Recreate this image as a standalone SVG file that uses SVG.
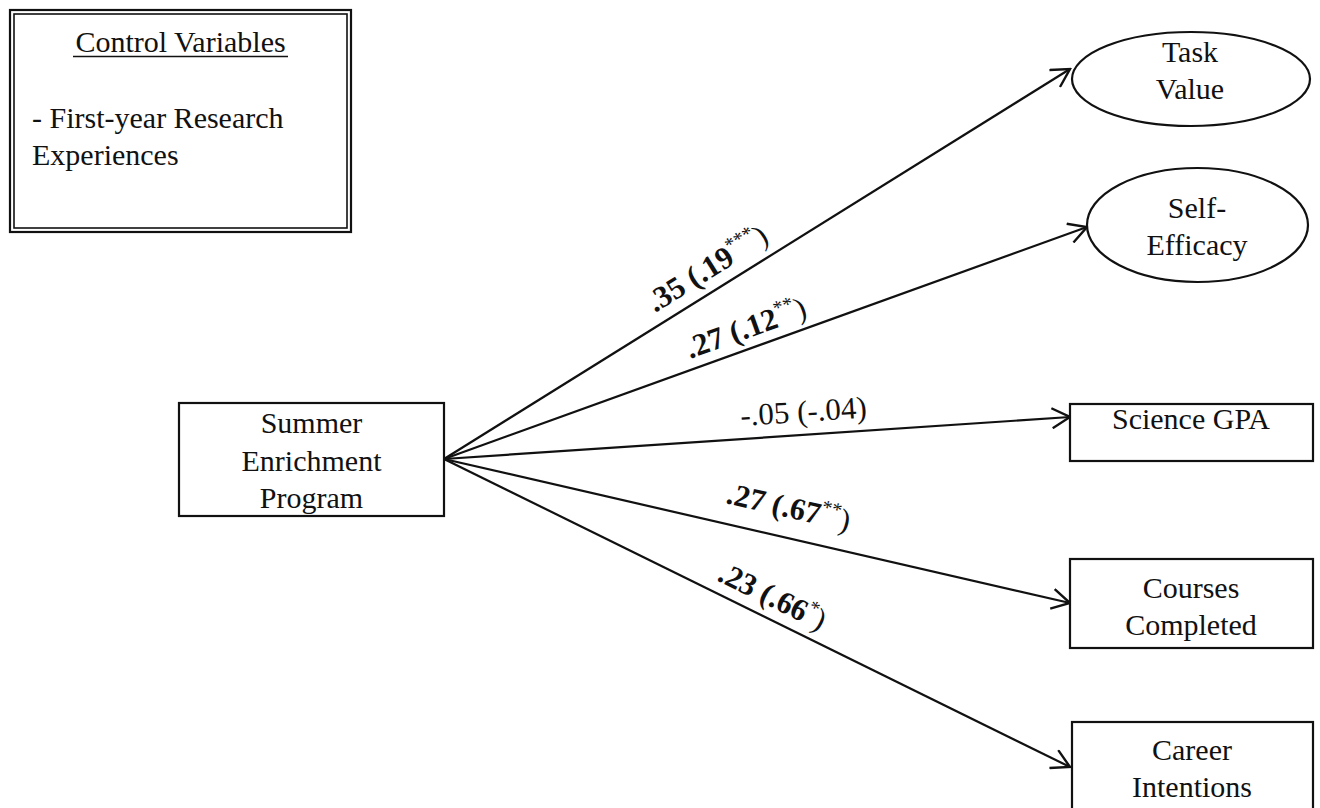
<svg xmlns="http://www.w3.org/2000/svg" width="1320" height="808" viewBox="0 0 1320 808">
<defs>
<style>
text{font-family:"Liberation Serif","Times New Roman",serif;fill:#111;}
.node{font-size:30px;text-anchor:middle;}
.box{fill:#fff;stroke:#111;stroke-width:2.2;}
.edge{stroke:#111;stroke-width:2.2;fill:none;marker-end:url(#arr);}
.lab{font-size:31px;}
.b{font-weight:bold;}
.sup{font-size:20px;font-weight:normal;}
</style>
<marker id="arr" markerUnits="userSpaceOnUse" viewBox="0 0 22 22" markerWidth="22" markerHeight="22" refX="20" refY="11" orient="auto">
<path d="M2,1 L20,11 L2,21" fill="none" stroke="#111" stroke-width="2.4" stroke-linejoin="miter"/>
</marker>
</defs>
<rect width="1320" height="808" fill="#fff"/>

<g id="control">
<rect x="10" y="10" width="341" height="222" fill="#fff" stroke="#111" stroke-width="2.2"/>
<rect x="14" y="14" width="333" height="214" fill="none" stroke="#111" stroke-width="1.6"/>
<text class="node" x="180.5" y="52">Control Variables</text>
<line x1="73" y1="56.5" x2="288" y2="56.5" stroke="#111" stroke-width="1.5"/>
<text style="font-size:30px" x="32" y="128">- First-year Research</text>
<text style="font-size:30px" x="32" y="165">Experiences</text>
</g>

<g id="connectors">
<line class="edge" x1="444" y1="459" x2="1070" y2="69"/>
<line class="edge" x1="444" y1="459" x2="1087" y2="227"/>
<line class="edge" x1="444" y1="459" x2="1070" y2="417"/>
<line class="edge" x1="444" y1="459" x2="1070" y2="603"/>
<line class="edge" x1="444" y1="459" x2="1070" y2="767"/>
<text class="lab" transform="translate(655,313) rotate(-31.9)"><tspan class="b">.35 (.19</tspan><tspan class="sup" dy="-12">***</tspan><tspan dy="12">)</tspan></text>
<text class="lab" transform="translate(690,359) rotate(-19.8)"><tspan class="b">.27 (.12</tspan><tspan class="sup" dy="-12">**</tspan><tspan dy="12">)</tspan></text>
<text class="lab" transform="translate(741,426) rotate(-3.8)">-.05 (-.04)</text>
<text class="lab" transform="translate(725,503) rotate(12.95)"><tspan class="b">.27 (.67</tspan><tspan class="sup" dy="-12">**</tspan><tspan dy="12">)</tspan></text>
<text class="lab" transform="translate(716,580) rotate(26.2)"><tspan class="b">.23 (.66</tspan><tspan class="sup" dy="-12">*</tspan><tspan dy="12">)</tspan></text>
</g>

<g id="summer">
<rect class="box" x="179" y="403" width="265" height="113"/>
<text class="node" x="311.5" y="433">Summer</text>
<text class="node" x="311.5" y="471">Enrichment</text>
<text class="node" x="311.5" y="508">Program</text>
</g>

<g id="task-value">
<ellipse class="box" cx="1191" cy="79" rx="119" ry="47"/>
<text class="node" x="1190" y="62">Task</text>
<text class="node" x="1190" y="99">Value</text>
</g>

<g id="self-efficacy">
<ellipse class="box" cx="1197.5" cy="225" rx="110.5" ry="57"/>
<text class="node" x="1197" y="218">Self-</text>
<text class="node" x="1197" y="255">Efficacy</text>
</g>

<g id="science-gpa">
<rect class="box" x="1070" y="404" width="243" height="57"/>
<text class="node" x="1191" y="429">Science GPA</text>
</g>

<g id="courses">
<rect class="box" x="1070" y="559" width="243" height="89"/>
<text class="node" x="1191" y="598">Courses</text>
<text class="node" x="1191" y="635">Completed</text>
</g>

<g id="career">
<rect class="box" x="1072" y="722" width="241" height="100"/>
<text class="node" x="1192" y="760">Career</text>
<text class="node" x="1192" y="797">Intentions</text>
</g>
</svg>
